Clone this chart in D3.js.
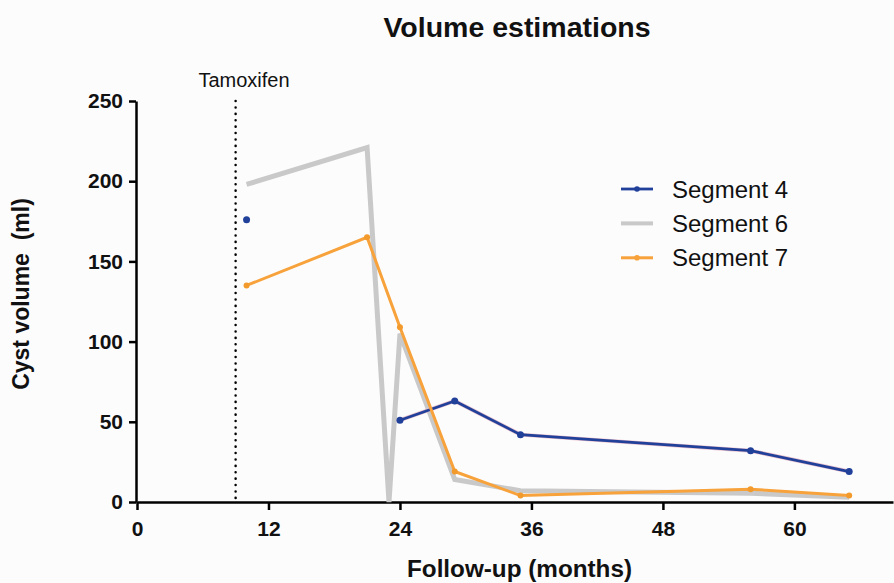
<!DOCTYPE html>
<html><head><meta charset="utf-8">
<script src="https://cdn.jsdelivr.net/npm/d3@7"></script>
<style>body{margin:0;background:#fcfcfd}svg{display:block}</style>
</head><body>
<svg id="c" width="894" height="583"></svg>
<script>
const months = [10, 21, 23, 24, 29, 35, 56, 65];
const seg4 = [176, null, null, 51, 63, 42, 32, 19];
const seg6 = [198, 221, 0, 105, 14, 7, 5.5, 3];
const seg7 = [135, 165, null, 109, 19, 4, 8, 4];
const xTicks = [0, 12, 24, 36, 48, 60];
const yTicks = [0, 50, 100, 150, 200, 250];
const tamoxifenMonth = 9;
const seriesNames = ["Segment 4", "Segment 6", "Segment 7"];

const svg = d3.select("#c");
const font = "'Liberation Sans', Arial, sans-serif";
const x = d3.scaleLinear().domain([0, 69]).range([137, 893]);
const y = d3.scaleLinear().domain([0, 250]).range([502, 101]);

// axes
const xa = svg.append("g").attr("transform", "translate(0,502)")
  .call(d3.axisBottom(x).tickValues(xTicks).tickSize(8).tickSizeOuter(0).tickPadding(11));
const ya = svg.append("g").attr("transform", "translate(136,0)")
  .call(d3.axisLeft(y).tickValues(yTicks).tickSize(7).tickSizeOuter(0).tickPadding(6));
[xa, ya].forEach(g => {
  g.select(".domain").attr("stroke", "#000").attr("stroke-width", 2.5);
  g.selectAll(".tick line").attr("stroke", "#000").attr("stroke-width", 2.5);
  g.selectAll(".tick text").attr("font-family", font).attr("font-weight", "bold")
    .attr("font-size", 21).attr("fill", "#111");
});

// tamoxifen line
svg.append("line").attr("x1", x(tamoxifenMonth)).attr("x2", x(tamoxifenMonth))
  .attr("y1", y(250)).attr("y2", y(0)).attr("stroke", "#000").attr("stroke-width", 2.5)
  .attr("stroke-dasharray", "0.1 6.3").attr("stroke-linecap", "round");
svg.append("text").attr("x", 244).attr("y", 87).attr("text-anchor", "middle")
  .attr("font-family", font).attr("font-size", 20).attr("fill", "#111").text("Tamoxifen");

const pts = vals => months.map((m, i) => ({m, v: vals[i]}));
const line = d3.line().defined(d => d.v != null).x(d => x(d.m)).y(d => y(d.v));

// Segment 6 (gray)
svg.append("path").datum(pts(seg6)).attr("d", line).attr("fill", "none")
  .attr("stroke", "#c9c9c9").attr("stroke-width", 5).attr("stroke-linejoin", "miter");

// Segment 4 (blue)
const s4 = pts(seg4);
svg.append("path").datum(s4).attr("d", line).attr("fill", "none")
  .attr("stroke", "#ecc2cc").attr("stroke-width", 4);
svg.append("path").datum(s4).attr("d", line).attr("fill", "none")
  .attr("stroke", "#21409a").attr("stroke-width", 2.8);
svg.selectAll(".p4").data(s4.filter(d => d.v != null)).join("circle")
  .attr("cx", d => x(d.m)).attr("cy", d => y(d.v)).attr("r", 3.5).attr("fill", "#21409a");

// Segment 7 (orange)
const s7 = pts(seg7).filter(d => d.v != null);
svg.append("path").datum(s7).attr("d", line).attr("fill", "none")
  .attr("stroke", "#f7a23a").attr("stroke-width", 3);
svg.selectAll(".p7").data(s7).join("circle")
  .attr("cx", d => x(d.m)).attr("cy", d => y(d.v)).attr("r", 3).attr("fill", "#f39a2c");

// legend
const colors = ["#21409a", "#c9c9c9", "#f7a23a"];
const widths = [2.8, 4, 3];
const lg = svg.append("g");
seriesNames.forEach((n, i) => {
  const yy = 189 + i * 34.4;
  lg.append("line").attr("x1", 621).attr("x2", 653).attr("y1", yy).attr("y2", yy)
    .attr("stroke", colors[i]).attr("stroke-width", widths[i]);
  if (i !== 1) lg.append("circle").attr("cx", 637).attr("cy", yy).attr("r", 2.8).attr("fill", colors[i]);
  lg.append("text").attr("x", 672).attr("y", yy + 8.6).attr("font-family", font)
    .attr("font-size", 24).attr("fill", "#111").text(n);
});

// titles
svg.append("text").attr("x", 517).attr("y", 37).attr("text-anchor", "middle")
  .attr("font-family", font).attr("font-weight", "bold").attr("font-size", 28.5)
  .attr("fill", "#111").text("Volume estimations");
svg.append("text").attr("x", 519.5).attr("y", 577).attr("text-anchor", "middle")
  .attr("font-family", font).attr("font-weight", "bold").attr("font-size", 23)
  .attr("textLength", 225).attr("lengthAdjust", "spacingAndGlyphs")
  .attr("fill", "#111").text("Follow-up (months)");
svg.append("text").attr("transform", "translate(29,294) rotate(-90)").attr("text-anchor", "middle")
  .attr("font-family", font).attr("font-weight", "bold").attr("font-size", 23)
  .attr("fill", "#111").style("white-space", "pre").text("Cyst volume  (ml)");
</script>
</body></html>
